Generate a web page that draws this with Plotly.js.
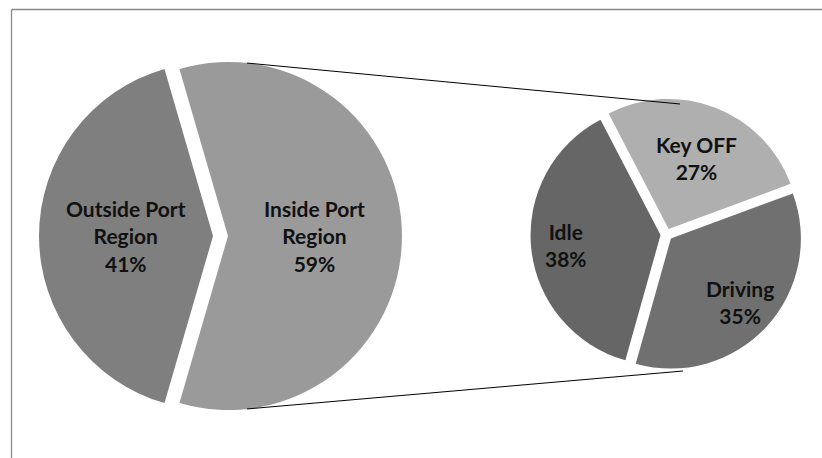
<!DOCTYPE html>
<html>
<head>
<meta charset="utf-8">
<script src="https://cdn.plot.ly/plotly-3.0.1.min.js"></script>
<style>html,body{margin:0;padding:0;background:#fff;}#chart{width:822px;height:458px;}</style>
</head>
<body>
<div id="chart"></div>
<script>
// Data
var mainLabels = ["Inside Port<br>Region", "Outside Port<br>Region"];
var mainValues = [59, 41];
var mainColors = ["#9a9a9a", "#7f7f7f"];

var subLabels = ["Key OFF", "Driving", "Idle"];
var subValues = [27, 35, 38];
var subColors = ["#afafaf", "#707070", "#666666"];

// Geometry (pixels)
var W = 822, H = 458;
var L = {cx: 220.5, cy: 236, r: 174, pull: 0.043, rot: -16.2, fr: [0.5, 0.5]};
var R = {cx: 666.5, cy: 234.5, r: 130, pull: 0.046, rot: -27.5, fr: [0.585, 0.72, 0.73]};

function dom(g) {
  var half = g.r * (1 + g.pull);
  return {
    x: [(g.cx - half) / W, (g.cx + half) / W],
    y: [(H - g.cy - half) / H, (H - g.cy + half) / H]
  };
}
function px(x) { return x / W; }
function py(y) { return 1 - y / H; }

var font = {family: "Lato, 'Open Sans', sans-serif", size: 21, color: "#111111"};

function makePie(labels, values, colors, g) {
  return {
    type: "pie",
    labels: labels,
    values: values,
    sort: false,
    direction: "clockwise",
    rotation: g.rot,
    pull: values.map(function () { return g.pull; }),
    marker: {colors: colors, line: {width: 0}},
    textinfo: "none",
    hoverinfo: "label+percent",
    domain: dom(g)
  };
}

// labels placed along each slice's bisector, computed from the values
function makeLabels(labels, values, g) {
  var total = values.reduce(function (a, b) { return a + b; }, 0);
  var cum = 0, out = [];
  values.forEach(function (v, i) {
    var mid = (g.rot + (cum + v / 2) / total * 360) * Math.PI / 180;
    cum += v;
    var d = (g.pull + g.fr[i]) * g.r;
    var x = g.cx + d * Math.sin(mid);
    var y = g.cy - d * Math.cos(mid);
    out.push({
      xref: "paper", yref: "paper", x: px(x), y: py(y),
      xanchor: "center", yanchor: "middle", showarrow: false,
      text: "<b>" + labels[i] + "<br>" + Math.round(v / total * 100) + "%</b>",
      font: font, align: "center"
    });
  });
  return out;
}

var traces = [
  makePie(mainLabels, mainValues, mainColors, L),
  makePie(subLabels, subValues, subColors, R)
];

// connector lines between the two pies, from their geometry
var x0 = L.cx + L.pull * L.r + 19;
var yTopL = L.cy - Math.sqrt(L.r * L.r - 19 * 19);
var yBotL = L.cy + Math.sqrt(L.r * L.r - 19 * 19);
var xTopR = R.cx + 13.5, yTopR = R.cy - R.r - 0.5;
var xBotR = R.cx + 16.5, yBotR = R.cy + R.r + 6.5;

var shapes = [
  {type: "line", xref: "paper", yref: "paper", x0: px(x0), y0: py(yTopL), x1: px(xTopR), y1: py(yTopR), line: {color: "#000", width: 1}},
  {type: "line", xref: "paper", yref: "paper", x0: px(x0), y0: py(yBotL), x1: px(xBotR), y1: py(yBotR), line: {color: "#000", width: 1}},
  {type: "line", xref: "paper", yref: "paper", x0: px(11.5), y0: py(9.5), x1: 1, y1: py(9.5), line: {color: "#888", width: 1.3}},
  {type: "line", xref: "paper", yref: "paper", x0: px(11.5), y0: py(9.5), x1: px(11.5), y1: 0, line: {color: "#888", width: 1.3}}
];

var layout = {
  width: W, height: H,
  margin: {l: 0, r: 0, t: 0, b: 0},
  paper_bgcolor: "#ffffff",
  showlegend: false,
  shapes: shapes,
  annotations: makeLabels(mainLabels, mainValues, L).concat(makeLabels(subLabels, subValues, R))
};

Plotly.newPlot("chart", traces, layout, {displayModeBar: false, staticPlot: true});
</script>
</body>
</html>
